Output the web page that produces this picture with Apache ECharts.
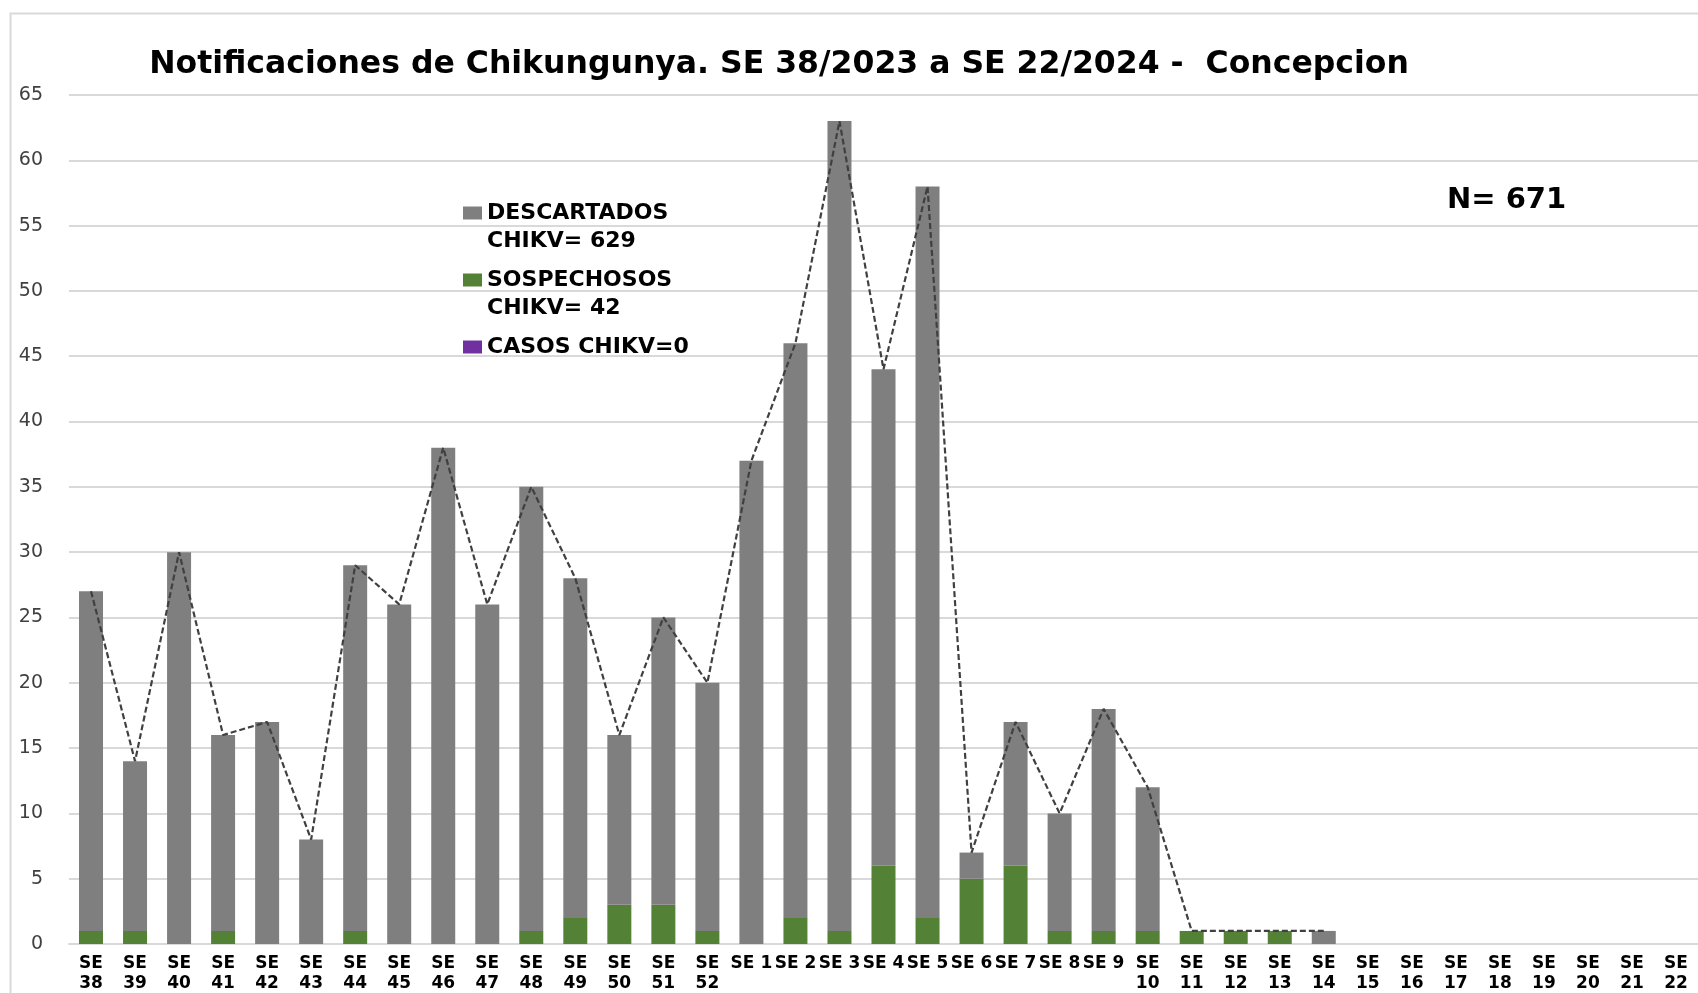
<!DOCTYPE html>
<html>
<head>
<meta charset="utf-8">
<script src="https://cdn.jsdelivr.net/npm/echarts@6/dist/echarts.min.js"></script>
<style>
html,body{margin:0;padding:0;background:#fff;}
#chart{width:1698px;height:993px;}
</style>
</head>
<body>
<div id="chart"></div>
<script>
const categories = ['SE 38','SE 39','SE 40','SE 41','SE 42','SE 43','SE 44','SE 45','SE 46','SE 47','SE 48','SE 49','SE 50','SE 51','SE 52',
  'SE 1','SE 2','SE 3','SE 4','SE 5','SE 6','SE 7','SE 8','SE 9','SE 10','SE 11','SE 12','SE 13','SE 14','SE 15','SE 16','SE 17','SE 18','SE 19','SE 20','SE 21','SE 22'];
const descartados = [26,13,30,15,17,8,28,26,38,26,34,26,13,22,19, 37,44,62,38,56,2,11,9,17,11,0,0,0,1, null,null,null,null,null,null,null,null];
const sospechosos = [1,1,0,1,0,0,1,0,0,0,1,2,3,3,1, 0,2,1,6,2,5,6,1,1,1,1,1,1,0, null,null,null,null,null,null,null,null];
const casos = [0,0,0,0,0,0,0,0,0,0,0,0,0,0,0, 0,0,0,0,0,0,0,0,0,0,0,0,0,0, null,null,null,null,null,null,null,null];
const totales = [27,14,30,16,17,8,29,26,38,26,35,28,16,25,20, 37,46,63,44,58,7,17,10,18,12,1,1,1,1, null,null,null,null,null,null,null,null];
const yTicks = {min:0, max:65, interval:5};
const titleText = 'Notificaciones de Chikungunya. SE 38/2023 a SE 22/2024 -  Concepcion';
const nameDesc = 'DESCARTADOS\nCHIKV= 629';
const nameSosp = 'SOSPECHOSOS\nCHIKV= 42';
const nameCasos = 'CASOS CHIKV=0';
const totalLabel = 'N= 671';

const chart = echarts.init(document.getElementById('chart'));
const F = 'DejaVu Sans';
chart.setOption({
  animation: false,
  backgroundColor: '#fff',
  title: {
    text: titleText,
    left: 774, textAlign: 'center', top: 44,
    textStyle: {fontFamily: F, fontWeight: 'bold', fontSize: 31.5, color: '#000'}
  },
  graphic: [
    {type:'rect', left: 8, top: 11, z: -1, silent: true,
     shape:{x:0,y:0,width:1720,height:1020}, style:{fill:'none', stroke:'#D9D9D9', lineWidth:2}},
    {type:'text', left: 1447, top: 186, silent: true,
     style:{text: totalLabel, fontFamily: F, fontWeight:'bold', fontSize: 29, fill:'#000'}}
  ],
  legend: {
    orient: 'vertical', left: 463, top: 171, padding: 0,
    itemWidth: 19, itemHeight: 13, itemGap: -17,
    selectedMode: false,
    icon: 'rect',
    formatter: n => n.indexOf('\n') >= 0 ? ' \n' + n : n,
    textStyle: {fontFamily: F, fontWeight: 'bold', fontSize: 22, color: '#000', lineHeight: 28},
    data: [
      {name: nameDesc},
      {name: nameSosp},
      {name: nameCasos, textStyle: {padding: [28,0,28,0]}}
    ]
  },
  grid: {left: 69, right: 0, top: 95, bottom: 49, containLabel: false, outerBoundsMode: 'none'},
  xAxis: {
    type: 'category', data: categories,
    axisTick: {show: false},
    axisLine: {lineStyle: {color: '#D9D9D9', width: 2}},
    axisLabel: {
      interval: 0, margin: 10, color: '#000', fontFamily: F, fontWeight: 'bold', fontSize: 17, lineHeight: 20,
      formatter: v => v.length > 4 ? v.replace(' ', '\n') : v
    }
  },
  yAxis: {
    type: 'value', min: yTicks.min, max: yTicks.max, interval: yTicks.interval,
    axisLine: {show: false}, axisTick: {show: false},
    splitLine: {lineStyle: {color: '#D9D9D9', width: 2}},
    axisLabel: {margin: 26, color: '#404040', fontFamily: F, fontSize: 19}
  },
  series: [
    {name: nameSosp, type: 'bar', stack: 't', data: sospechosos, barWidth: 24, itemStyle: {color: '#538135'}},
    {name: nameCasos, type: 'bar', stack: 't', data: casos, barWidth: 24, itemStyle: {color: '#7030A0'}},
    {name: nameDesc, type: 'bar', stack: 't', data: descartados, barWidth: 24, itemStyle: {color: '#7F7F7F'}},
    {name: 'Total', type: 'line', data: totales, symbol: 'none', z: 5,
     lineStyle: {color: '#404040', width: 2.2, type: [6, 3]}}
  ]
});
</script>
</body>
</html>
